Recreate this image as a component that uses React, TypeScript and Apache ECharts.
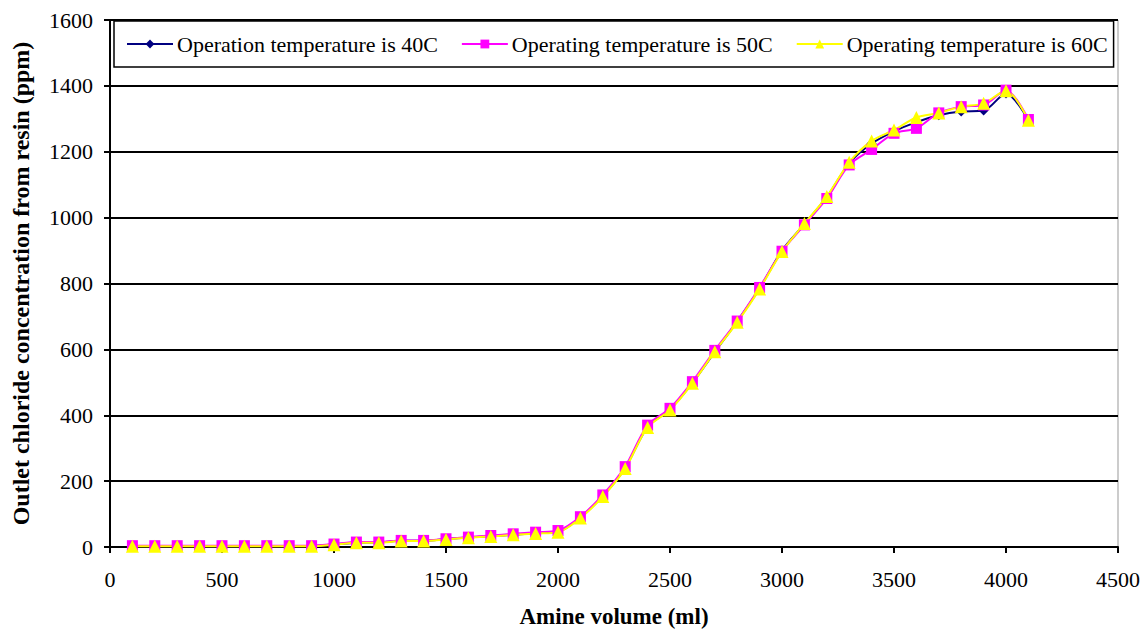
import React, { useEffect, useRef } from "react";
import * as echarts from "echarts";

const xValues = [100, 200, 300, 400, 500, 600, 700, 800, 900, 1000, 1100, 1200, 1300, 1400, 1500, 1600, 1700, 1800, 1900, 2000, 2100, 2200, 2300, 2400, 2500, 2600, 2700, 2800, 2900, 3000, 3100, 3200, 3300, 3400, 3500, 3600, 3700, 3800, 3900, 4000, 4100];
const temp40 = [3, 3, 3, 3, 2, 3, 3, 3, 3, 8, 13, 14, 19, 19, 24, 29, 33, 37, 42, 46, 90, 155, 240, 365, 418, 498, 592, 685, 785, 900, 980, 1062, 1165, 1225, 1262, 1290, 1311, 1322, 1325, 1377, 1296];
const temp50 = [4, 4, 4, 4, 4, 4, 4, 4, 4, 9, 15, 15, 20, 20, 25, 30, 35, 40, 45, 50, 92, 158, 244, 370, 421, 502, 597, 686, 788, 898, 978, 1058, 1160, 1207, 1256, 1271, 1318, 1337, 1342, 1387, 1298];
const temp60 = [2, 2, 2, 2, 2, 2, 2, 2, 2, 7, 13, 13, 18, 18, 23, 28, 32, 37, 41, 45, 88, 153, 238, 363, 416, 497, 593, 682, 783, 897, 982, 1064, 1168, 1233, 1266, 1304, 1318, 1337, 1347, 1385, 1296];
const seriesNames = ["Operation temperature is 40C", "Operating temperature is 50C", "Operating temperature is 60C"];

const FONT = "Liberation Serif, Times New Roman, serif";

export default function App() {
  const ref = useRef<HTMLDivElement>(null);
  useEffect(() => {
    if (!ref.current) return;
    const chart = echarts.init(ref.current, null, { renderer: "svg" });
    const pair = (ys: number[]) => xValues.map((x, i) => [x, ys[i]]);
    chart.setOption({
      animation: false,
      backgroundColor: "#ffffff",
      textStyle: { fontFamily: FONT },
      grid: {
        left: 110,
        right: 24,
        top: 20,
        bottom: 84,
        containLabel: false,
        outerBoundsMode: "none",
        show: true,
        borderColor: "#999",
        borderWidth: 1,
      },
      legend: {
        left: 114,
        top: 21,
        orient: "horizontal",
        itemWidth: 46,
        itemHeight: 11,
        itemGap: 23,
        padding: [12, 6, 12, 12],
        borderColor: "#000",
        borderWidth: 1.5,
        backgroundColor: "#fff",
        textStyle: { fontFamily: FONT, fontSize: 22, color: "#000", padding: [0, 0, 0, -1] },
        data: seriesNames,
      },
      xAxis: {
        type: "value",
        min: 0,
        max: 4500,
        interval: 500,
        name: "Amine volume (ml)",
        nameLocation: "middle",
        nameGap: 57,
        nameTextStyle: { fontFamily: FONT, fontSize: 23, fontWeight: "bold", color: "#000", lineHeight: 24 },
        axisLine: { show: true, lineStyle: { color: "#000", width: 2 } },
        axisTick: { show: true, length: 6, lineStyle: { color: "#000", width: 2 } },
        axisLabel: { fontFamily: FONT, fontSize: 22, color: "#000", margin: 21, formatter: (v: number) => String(v) },
        splitLine: { show: false },
      },
      yAxis: {
        type: "value",
        min: 0,
        max: 1600,
        interval: 200,
        name: "Outlet chloride concentration from resin (ppm)",
        nameLocation: "middle",
        nameGap: 77,
        nameTextStyle: { fontFamily: FONT, fontSize: 24, fontWeight: "bold", color: "#000" },
        axisLine: { show: true, lineStyle: { color: "#000", width: 2 } },
        axisTick: { show: true, length: 6, lineStyle: { color: "#000", width: 2 } },
        axisLabel: { fontFamily: FONT, fontSize: 22, color: "#000", margin: 17, formatter: (v: number) => String(v) },
        splitLine: { show: true, lineStyle: { color: "#000", width: 2 } },
      },
      series: [
        {
          name: seriesNames[0],
          type: "line",
          smooth: 0.3,
          data: pair(temp40),
          symbol: "diamond",
          symbolSize: 10,
          lineStyle: { color: "#000080", width: 2 },
          itemStyle: { color: "#000080" },
        },
        {
          name: seriesNames[1],
          type: "line",
          smooth: 0.3,
          data: pair(temp50),
          symbol: "rect",
          symbolSize: 11,
          lineStyle: { color: "#FF00FF", width: 2 },
          itemStyle: { color: "#FF00FF" },
        },
        {
          name: seriesNames[2],
          type: "line",
          smooth: 0.3,
          data: pair(temp60),
          symbol: "triangle",
          symbolSize: 13,
          lineStyle: { color: "#FFFF00", width: 2 },
          itemStyle: { color: "#FFFF00" },
        },
      ],
    });
    return () => chart.dispose();
  }, []);
  return <div ref={ref} style={{ width: 1142, height: 631, position: "absolute", left: 0, top: 0 }} />;
}
